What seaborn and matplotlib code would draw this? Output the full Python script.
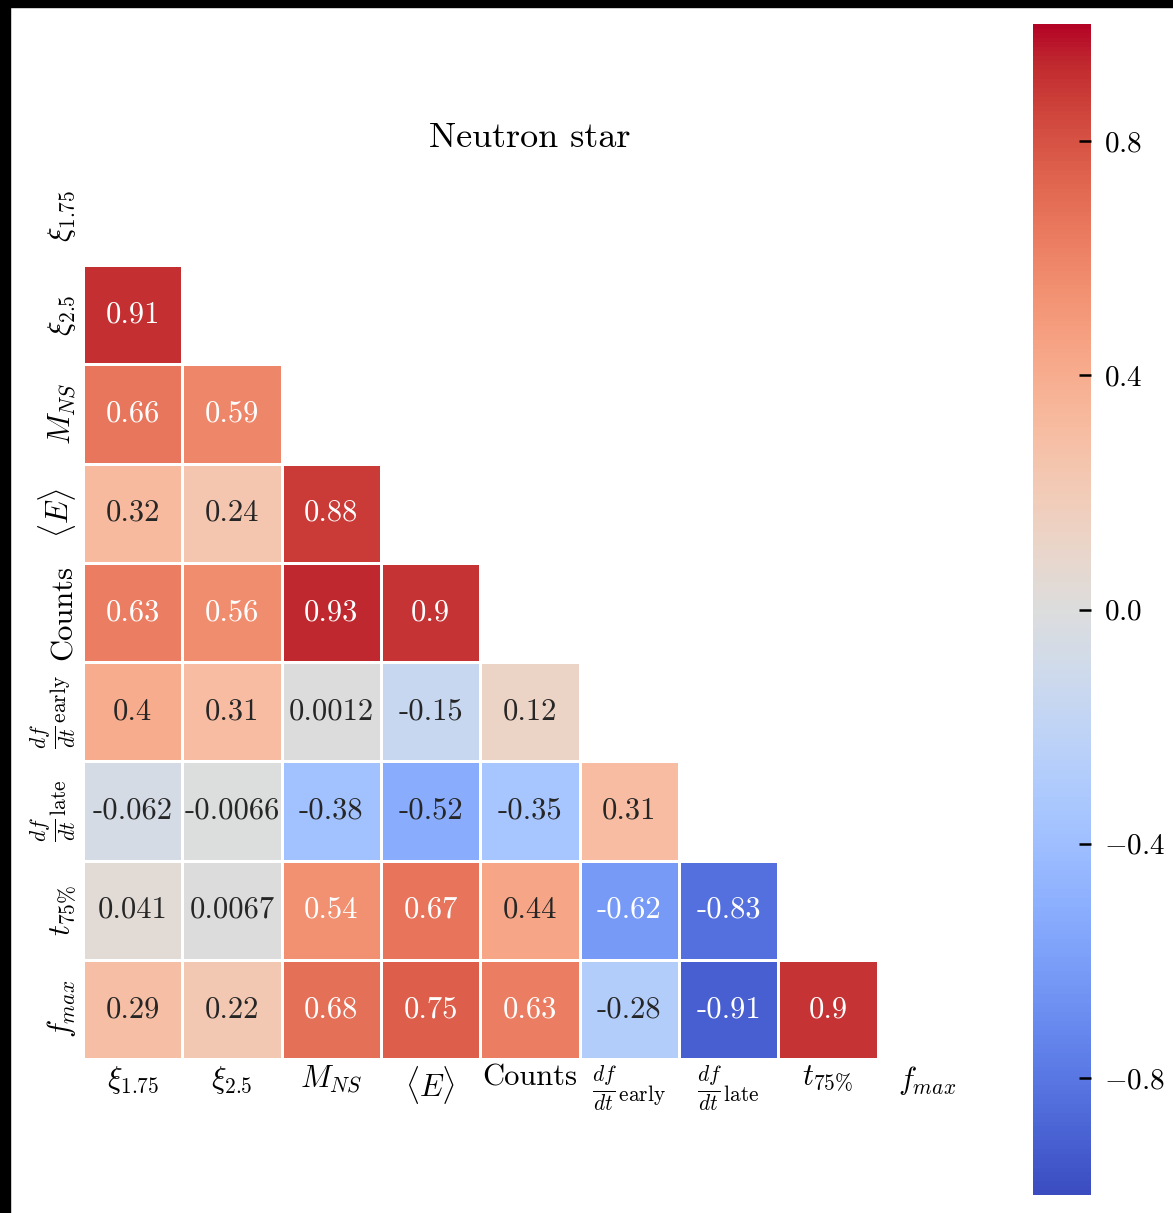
import numpy as np
import pandas as pd
import matplotlib
matplotlib.use("Agg")
import matplotlib.pyplot as plt
import seaborn as sns

labels = [r"$\xi_{1.75}$", r"$\xi_{2.5}$", r"$M_{NS}$", r"$\langle E\rangle$", "Counts",
          r"$\frac{df}{dt}{}_{\rm early}$", r"$\frac{df}{dt}{}_{\rm late}$", r"$t_{75\%}$", r"$f_{max}$"]

# lower-triangle correlation coefficients, row by row
row_xi25 = [0.91]
row_mns = [0.66, 0.59]
row_e = [0.32, 0.24, 0.88]
row_counts = [0.63, 0.56, 0.93, 0.9]
row_early = [0.4, 0.31, 0.0012, -0.15, 0.12]
row_late = [-0.062, -0.0066, -0.38, -0.52, -0.35, 0.31]
row_t75 = [0.041, 0.0067, 0.54, 0.67, 0.44, -0.62, -0.83]
row_fmax = [0.29, 0.22, 0.68, 0.75, 0.63, -0.28, -0.91, 0.9]
lower_rows = [row_xi25, row_mns, row_e, row_counts, row_early, row_late, row_t75, row_fmax]
cbar_ticks = [-0.8, -0.4, 0.0, 0.4, 0.8]

n = len(labels)
corr = np.eye(n)
for i, vals in enumerate(lower_rows, start=1):
    for j, v in enumerate(vals):
        corr[i, j] = v
        corr[j, i] = v
corr_df = pd.DataFrame(corr, index=labels, columns=labels)
mask = np.triu(np.ones_like(corr, dtype=bool))

sns.set_theme(style="white")
plt.rcParams["font.family"] = ["serif"]
plt.rcParams["font.serif"] = ["cmr10"]
plt.rcParams["mathtext.fontset"] = "cm"
plt.rcParams["axes.formatter.use_mathtext"] = True
plt.rcParams["axes.unicode_minus"] = True
plt.rcParams["text.color"] = "black"
plt.rcParams["xtick.color"] = "black"
plt.rcParams["ytick.color"] = "black"
plt.rcParams["xtick.labelcolor"] = "black"
plt.rcParams["ytick.labelcolor"] = "black"

W, H = 1173, 1213
fig = plt.figure(figsize=(W / 100, H / 100), dpi=100)
ax = fig.add_axes([83 / W, 1 - 1059 / H, 894 / W, 893 / H])
cax = fig.add_axes([1033 / W, 1 - 1195 / H, 58 / W, 1171 / H])

sns.heatmap(corr_df, mask=mask, cmap="coolwarm", vmin=-1, vmax=1, center=0,
            annot=True, fmt=".2g", annot_kws={"fontsize": 22},
            linewidths=1, linecolor="white", square=False,
            ax=ax, cbar_ax=cax)

ax.set_title("Neutron star", fontsize=26, pad=14, color="black")
ax.tick_params(length=0, labelsize=22)
ax.set_xticklabels(labels, rotation=0, fontsize=22)
ax.set_yticklabels(labels, rotation=90, va="center", fontsize=22)

# colorbar ticks point inward and sit on top of the colour strip
cax.set_yticks(cbar_ticks)
cax.set_axisbelow(False)
cax.yaxis.set_zorder(5)
cax.tick_params(right=True, direction="in", length=9, width=1.8, color="black",
                labelsize=21, pad=9)

# dark strips along the top and left edges of the canvas
fig.patches.append(plt.Rectangle((0, 1 - 7 / H), 1, 7 / H, transform=fig.transFigure,
                                 color="black", zorder=10))
fig.patches.append(plt.Rectangle((0, 0), 10 / W, 1, transform=fig.transFigure,
                                 color="black", zorder=10))

fig.savefig("out.png", dpi=100)
